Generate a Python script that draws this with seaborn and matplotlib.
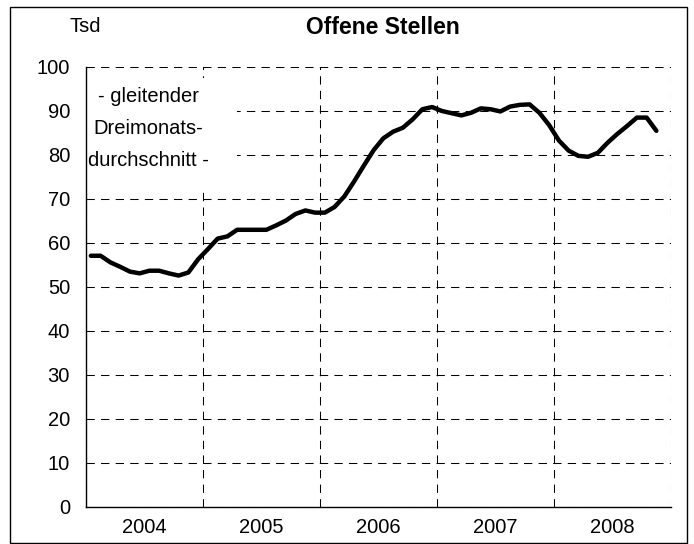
import matplotlib
matplotlib.use("Agg")
import matplotlib.pyplot as plt
from matplotlib.patches import Rectangle
from matplotlib.ticker import MultipleLocator, FixedLocator
import pandas as pd
import seaborn as sns

# Offene Stellen, gleitender Dreimonatsdurchschnitt (Tsd), Jan 2004 - Nov 2008
years = [2004, 2005, 2006, 2007, 2008]
vacancies = [
    57.1, 57.1, 55.6, 54.6, 53.5, 53.1, 53.7, 53.7, 53.1, 52.6, 53.3, 56.3,  # 2004
    58.6, 61.0, 61.5, 63.0, 63.0, 63.0, 63.0, 64.0, 65.1, 66.6, 67.4, 66.9,  # 2005
    66.9, 68.2, 70.6, 74.0, 77.6, 81.1, 83.8, 85.3, 86.2, 88.1, 90.4, 90.9,  # 2006
    90.0, 89.5, 89.0, 89.6, 90.6, 90.4, 89.9, 91.0, 91.4, 91.5, 89.6, 86.8,  # 2007
    83.3, 81.0, 79.8, 79.6, 80.5, 82.8, 84.8, 86.6, 88.5, 88.5, 85.5,        # 2008
]
y_ticks = list(range(0, 101, 10))
note = "- gleitender\nDreimonats-\ndurchschnitt -"

months = pd.date_range("2004-01-01", periods=len(vacancies), freq="MS")
df = pd.DataFrame({"datum": months, "wert": vacancies})
# month position on a category axis (centered between tick marks)
df["pos"] = (df["datum"].dt.year - years[0]) * 12 + df["datum"].dt.month - 0.5

sns.set_theme(style="white")
plt.rcParams["font.family"] = ["Liberation Sans", "DejaVu Sans"]

fig = plt.figure(figsize=(6.94, 5.44), dpi=100)
ax = fig.add_axes([86 / 694, 1 - 507 / 544, (671 - 86) / 694, (507 - 67) / 544])

sns.lineplot(data=df, x="pos", y="wert", color="black", linewidth=3.2, ax=ax, zorder=3)

n_months = len(years) * 12
ax.set_xlim(0, n_months)
ax.set_ylim(0, 100)
ax.yaxis.set_major_locator(FixedLocator(y_ticks))
ax.xaxis.set_major_locator(MultipleLocator(12))
ax.xaxis.set_minor_locator(FixedLocator([12 * i + 6 for i in range(len(years))]))
ax.set_xticklabels([], minor=False)
ax.set_xticklabels([str(y) for y in years], minor=True)
ax.set_xlabel("")
ax.set_ylabel("")

ax.set_axisbelow(True)
ax.grid(True, which="major", color="black", linestyle=(0, (8, 6)), linewidth=0.75)
for side in ["top", "right"]:
    ax.spines[side].set_visible(False)
for side in ["left", "bottom"]:
    ax.spines[side].set_color("black")
    ax.spines[side].set_linewidth(1.0)

ax.tick_params(axis="both", which="major", direction="out", length=4.5, width=0.8,
               color="black", labelsize=14.5, labelcolor="black")
ax.tick_params(axis="y", which="major", pad=7)
ax.tick_params(axis="x", which="minor", length=0, pad=8, labelsize=14.5, labelcolor="black")

# white box behind the note
ax.add_patch(Rectangle((0.1, 72), 15.4, 25.5, facecolor="white", edgecolor="none", zorder=1))
ax.text(6.4, 86.0, note, ha="center", va="center", multialignment="center",
        fontsize=14.5, linespacing=1.85, color="black", zorder=4)

fig.text(383 / 694, 1 - 28 / 544, "Offene Stellen", ha="center", va="center",
         fontsize=16.5, fontweight="bold", color="black")
fig.text(85 / 694, 1 - 27 / 544, "Tsd", ha="center", va="center", fontsize=14.5, color="black")

# outer frame
fig.patches.append(Rectangle((10 / 694, 1 / 544), 677 / 694, 536 / 544, transform=fig.transFigure,
                             fill=False, edgecolor="black", linewidth=1.0))

fig.savefig("out.png", dpi=100)
